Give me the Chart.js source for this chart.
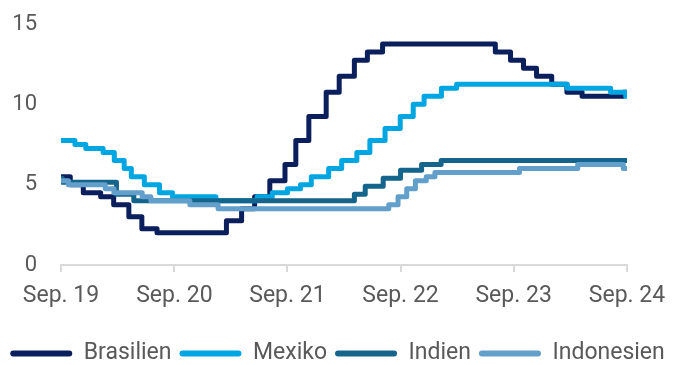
<!DOCTYPE html>
<html lang="de">
<head>
<meta charset="utf-8">
<title>Leitzinsen</title>
<script src="https://cdn.jsdelivr.net/npm/chart.js@4.4.1/dist/chart.umd.min.js"></script>
<style>
  html, body { margin: 0; padding: 0; background: #ffffff; }
  #wrap { width: 675px; height: 365px; position: relative; }
</style>
</head>
<body>
<div id="wrap"><canvas id="chart"></canvas></div>
<script>
// Leitzinsen in %, jeweils ab dem Datum der Zinsentscheidung
const startDate = '2019-09-30';
const endDate = '2024-09-30';

const tickDates = ['2019-09-30', '2020-09-30', '2021-09-30', '2022-09-30', '2023-09-30', '2024-09-30'];
const tickLabels = ['Sep. 19', 'Sep. 20', 'Sep. 21', 'Sep. 22', 'Sep. 23', 'Sep. 24'];

const seriesNames = ['Brasilien', 'Mexiko', 'Indien', 'Indonesien'];
const seriesColors = ['#0b1f5c', '#00a6e1', '#15648b', '#629fcb'];

const brasilienDates = ['2019-09-30', '2019-10-30', '2019-12-11', '2020-02-05', '2020-03-18', '2020-05-06',
    '2020-06-17', '2020-08-05', '2021-03-17', '2021-05-05', '2021-06-16', '2021-08-04', '2021-09-22',
    '2021-10-27', '2021-12-08', '2022-02-02', '2022-03-16', '2022-05-04', '2022-06-15', '2022-08-03',
    '2023-08-02', '2023-09-20', '2023-11-01', '2023-12-13', '2024-01-31', '2024-03-20', '2024-05-08',
    '2024-09-18', '2024-09-30'];
const brasilienRates = [5.5, 5.0, 4.5, 4.25, 3.75, 3.0, 2.25, 2.0, 2.75, 3.5, 4.25, 5.25, 6.25,
    7.75, 9.25, 10.75, 11.75, 12.75, 13.25, 13.75, 13.25, 12.75, 12.25, 11.75, 11.25, 10.75, 10.5,
    10.75, 10.75];

const mexikoDates = ['2019-09-30', '2019-11-14', '2019-12-19', '2020-02-13', '2020-03-20', '2020-04-21',
    '2020-05-14', '2020-06-25', '2020-08-13', '2020-09-24', '2021-02-11', '2021-06-24', '2021-08-12',
    '2021-09-30', '2021-11-11', '2021-12-16', '2022-02-10', '2022-03-24', '2022-05-12', '2022-06-23',
    '2022-08-11', '2022-09-29', '2022-11-10', '2022-12-15', '2023-02-09', '2023-03-30', '2024-03-21',
    '2024-08-08', '2024-09-26', '2024-09-30'];
const mexikoRates = [7.75, 7.5, 7.25, 7.0, 6.5, 6.0, 5.5, 5.0, 4.5, 4.25, 4.0, 4.25, 4.5,
    4.75, 5.0, 5.5, 6.0, 6.5, 7.0, 7.75, 8.5, 9.25, 10.0, 10.5, 11.0, 11.25, 11.0,
    10.75, 10.5, 10.5];

const indienDates = ['2019-09-30', '2019-10-04', '2020-03-27', '2020-05-22', '2022-05-04', '2022-06-08',
    '2022-08-05', '2022-09-30', '2022-12-07', '2023-02-08', '2024-09-30'];
const indienRates = [5.4, 5.15, 4.4, 4.0, 4.4, 4.9, 5.4, 5.9, 6.25, 6.5, 6.5];

const indonesienDates = ['2019-09-30', '2019-10-24', '2020-02-20', '2020-03-19', '2020-06-18', '2020-07-16',
    '2020-11-19', '2021-02-18', '2022-08-23', '2022-09-22', '2022-10-20', '2022-11-17', '2022-12-22',
    '2023-01-19', '2023-10-19', '2024-04-24', '2024-09-18', '2024-09-30'];
const indonesienRates = [5.25, 5.0, 4.75, 4.5, 4.25, 4.0, 3.75, 3.5, 3.75, 4.25, 4.75, 5.25, 5.5,
    5.75, 6.0, 6.25, 6.0, 6.0];

const textColor = '#595959';
const axisColor = '#d9d9d9';
const fontFamily = 'Roboto, "Liberation Sans", sans-serif';

// Tage seit Startdatum als x-Wert
function dayOffset(d) {
    return (Date.parse(d) - Date.parse(startDate)) / 86400000;
}

function toPoints(dates, rates) {
    return dates.map((d, i) => ({ x: dayOffset(d), y: rates[i] }));
}

const allDates = [brasilienDates, mexikoDates, indienDates, indonesienDates];
const allRates = [brasilienRates, mexikoRates, indienRates, indonesienRates];

const datasets = seriesNames.map((name, i) => ({
    label: name,
    data: toPoints(allDates[i], allRates[i]),
    borderColor: seriesColors[i],
    backgroundColor: seriesColors[i],
    borderWidth: 5,
    borderCapStyle: 'round',
    borderJoinStyle: 'round',
    stepped: true,
    pointRadius: 0,
    fill: false,
    // spätere Reihen liegen oben
    order: seriesNames.length - i
}));

// feste Ränder statt automatischer Label-Abstände
function fixedWidth(w) {
    return scale => {
        scale.width = w;
        scale.paddingTop = 0;
        scale.paddingBottom = 0;
    };
}

const ctx = document.getElementById('chart').getContext('2d');

new Chart(ctx, {
    type: 'line',
    data: { datasets: datasets },
    options: {
        responsive: true,
        maintainAspectRatio: false,
        animation: false,
        layout: { padding: { top: 24, left: 0, right: 0, bottom: -10 } },
        plugins: {
            tooltip: { enabled: false },
            legend: {
                position: 'bottom',
                labels: {
                    boxWidth: 62,
                    boxHeight: 6,
                    useBorderRadius: true,
                    borderRadius: 3,
                    padding: 8,
                    color: textColor,
                    font: { family: fontFamily, size: 23 },
                    sort: (a, b) => a.datasetIndex - b.datasetIndex,
                    generateLabels(chart) {
                        const items = Chart.defaults.plugins.legend.labels.generateLabels(chart);
                        items.forEach(item => { item.lineWidth = 0; });
                        return items;
                    }
                }
            }
        },
        scales: {
            x: {
                type: 'linear',
                min: 0,
                max: dayOffset(endDate),
                afterFit: scale => {
                    scale.height = 69;
                    scale.paddingLeft = 0;
                    scale.paddingRight = 0;
                },
                afterBuildTicks: scale => {
                    scale.ticks = tickDates.map(d => ({ value: dayOffset(d) }));
                },
                ticks: {
                    autoSkip: false,
                    maxRotation: 0,
                    padding: 10,
                    color: textColor,
                    font: { family: fontFamily, size: 23 },
                    callback: (value, index) => tickLabels[index]
                },
                grid: {
                    drawOnChartArea: false,
                    drawTicks: true,
                    tickLength: 7,
                    color: axisColor,
                    lineWidth: 2
                },
                border: { display: true, color: axisColor, width: 2 }
            },
            y: {
                min: 0,
                max: 15,
                afterFit: fixedWidth(61),
                ticks: {
                    stepSize: 5,
                    padding: 24,
                    color: textColor,
                    font: { family: fontFamily, size: 22 }
                },
                grid: { display: false, drawTicks: false },
                border: { display: false }
            },
            // leerer Platz rechts für die letzte Achsenbeschriftung
            rechts: {
                type: 'linear',
                position: 'right',
                display: true,
                afterFit: fixedWidth(48),
                ticks: { display: false },
                grid: { display: false, drawTicks: false },
                border: { display: false }
            }
        }
    }
});
</script>
</body>
</html>
